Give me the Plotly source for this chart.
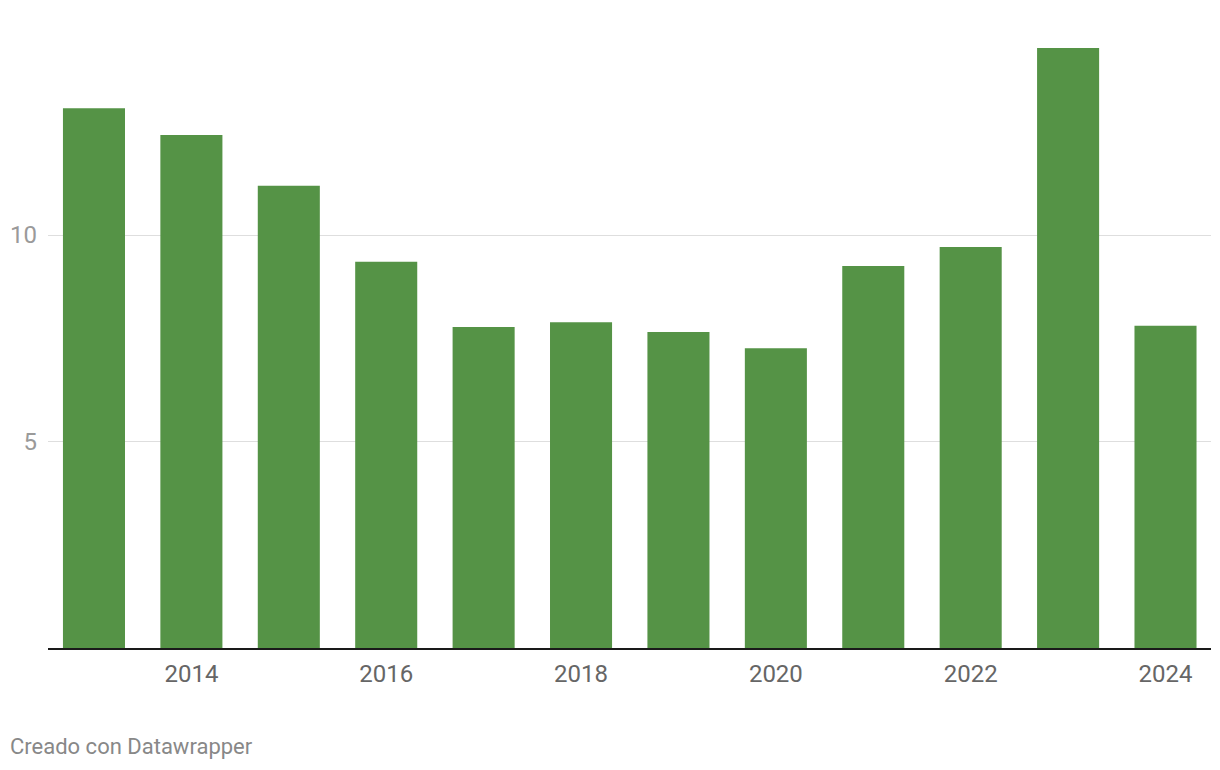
import plotly.graph_objects as go

years = [2013, 2014, 2015, 2016, 2017, 2018, 2019, 2020, 2021, 2022, 2023, 2024]
values = [13.07, 12.42, 11.19, 9.35, 7.77, 7.89, 7.65, 7.26, 9.25, 9.71, 14.53, 7.80]
x_ticks = [2014, 2016, 2018, 2020, 2022, 2024]
y_ticks = [5, 10]

# page body has an 8px margin; figure sized to fit the 1220x770 window
W, H = 1212, 762
L, R, T, B = 40, 9, 0, 122
PW, PH = W - L - R, H - T - B

fig = go.Figure(go.Bar(x=years, y=values, marker_color="#559346", marker_line_width=0,
                       hoverinfo="x+y"))

fig.update_layout(
    width=W, height=H,
    margin=dict(l=L, r=R, t=T, b=B),
    paper_bgcolor="white", plot_bgcolor="white",
    bargap=0.363,
    showlegend=False,
    font=dict(family="Roboto", size=24, color="#666666"),
)
fig.update_xaxes(
    range=[2013 - 0.472, 2024.467],
    tickvals=x_ticks, ticktext=[str(t) for t in x_ticks],
    showgrid=False, zeroline=False,
    showline=True, linecolor="#1a1a1a", linewidth=2,
    ticks="", ticklabelstandoff=3,
    tickfont=dict(size=24, color="#666666"),
)
fig.update_yaxes(
    range=[0, PH / 41.3],
    tickvals=y_ticks, ticktext=[str(t) for t in y_ticks],
    showgrid=True, gridcolor="#dedede", gridwidth=1,
    zeroline=False, showline=False, ticks="",
    ticklabelstandoff=10,
    tickfont=dict(size=24, color="#9a9a9a"),
)
fig.add_annotation(
    text="Creado con Datawrapper", xref="paper", yref="paper",
    x=(0 - L) / PW, y=-(738 - (H - B)) / PH,
    xanchor="left", yanchor="middle", showarrow=False,
    font=dict(family="Roboto", size=22, color="#888888"),
)

fig.write_html("out.html")
